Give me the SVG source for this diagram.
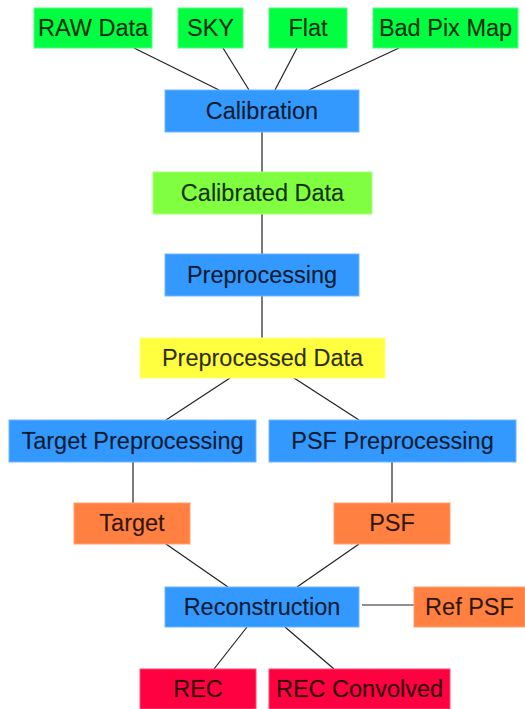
<svg xmlns="http://www.w3.org/2000/svg" width="525" height="709" viewBox="0 0 525 709">
<style>
  .lbl { font-family: "Liberation Sans", Arial, sans-serif; font-size: 23.5px; fill: #000; fill-opacity: 0.82; stroke: #000; stroke-opacity: 0.35; stroke-width: 0.4; text-anchor: middle; }
  .in { fill: #00FF40; stroke: #4dff7a; stroke-width: 1; }
  .cal { fill: #80FF40; stroke: #a6ff7a; stroke-width: 1; }
  .proc { fill: #3399FF; stroke: #70b8ff; stroke-width: 1; }
  .pre { fill: #FFFF40; stroke: #ffff80; stroke-width: 1; }
  .mid { fill: #FF8040; stroke: #ffa070; stroke-width: 1; }
  .out { fill: #FF0040; stroke: #ff4d79; stroke-width: 1; }
  .conn line { stroke: #222; stroke-width: 1.2; }
</style>
<rect width="525" height="709" fill="#fff"/>
<g id="connectors" class="conn">
  <line x1="134" y1="48" x2="219" y2="90"/>
  <line x1="223" y1="48" x2="249" y2="90"/>
  <line x1="297" y1="48" x2="275" y2="90"/>
  <line x1="399" y1="48" x2="309" y2="90"/>
  <line x1="262" y1="132" x2="262" y2="172"/>
  <line x1="262" y1="214" x2="262" y2="254"/>
  <line x1="262" y1="296" x2="262" y2="338"/>
  <line x1="230" y1="378" x2="166" y2="420"/>
  <line x1="294" y1="378" x2="359" y2="420"/>
  <line x1="133" y1="462" x2="133" y2="503"/>
  <line x1="392" y1="462" x2="392" y2="503"/>
  <line x1="166" y1="544" x2="228" y2="587"/>
  <line x1="359" y1="544" x2="297" y2="587"/>
  <line x1="362" y1="605" x2="414" y2="605"/>
  <line x1="247" y1="627" x2="214" y2="669"/>
  <line x1="285" y1="627" x2="334" y2="669"/>
</g>
<g id="raw"><rect class="in" x="34" y="8" width="118" height="40"/><text class="lbl" x="93" y="36">RAW Data</text></g>
<g id="sky"><rect class="in" x="178" y="8" width="65" height="40"/><text class="lbl" x="210.5" y="36">SKY</text></g>
<g id="flat"><rect class="in" x="269" y="8" width="78" height="40"/><text class="lbl" x="308" y="36">Flat</text></g>
<g id="badpix"><rect class="in" x="373" y="8" width="145" height="40"/><text class="lbl" x="445.5" y="36">Bad Pix Map</text></g>
<g id="calibration"><rect class="proc" x="165" y="90" width="194" height="42"/><text class="lbl" x="262" y="119">Calibration</text></g>
<g id="calibrated"><rect class="cal" x="153" y="172" width="219" height="42"/><text class="lbl" x="262.5" y="201">Calibrated Data</text></g>
<g id="preprocessing"><rect class="proc" x="165" y="254" width="194" height="42"/><text class="lbl" x="262" y="283">Preprocessing</text></g>
<g id="preprocessed"><rect class="pre" x="140" y="338" width="245" height="40"/><text class="lbl" x="262.5" y="366">Preprocessed Data</text></g>
<g id="targetpre"><rect class="proc" x="9" y="420" width="247" height="42"/><text class="lbl" x="132.5" y="449">Target Preprocessing</text></g>
<g id="psfpre"><rect class="proc" x="269" y="420" width="247" height="42"/><text class="lbl" x="392.5" y="449">PSF Preprocessing</text></g>
<g id="target"><rect class="mid" x="74" y="503" width="116" height="41"/><text class="lbl" x="132" y="531">Target</text></g>
<g id="psf"><rect class="mid" x="334" y="503" width="116" height="41"/><text class="lbl" x="392" y="531">PSF</text></g>
<g id="reconstruction"><rect class="proc" x="165" y="587" width="194" height="40"/><text class="lbl" x="262" y="615">Reconstruction</text></g>
<g id="refpsf"><rect class="mid" x="414" y="587" width="111" height="40"/><text class="lbl" x="469.5" y="615">Ref PSF</text></g>
<g id="rec"><rect class="out" x="140" y="669" width="116" height="40"/><text class="lbl" x="198" y="697">REC</text></g>
<g id="recconv"><rect class="out" x="269" y="669" width="181" height="40"/><text class="lbl" x="359.5" y="697">REC Convolved</text></g>
</svg>
